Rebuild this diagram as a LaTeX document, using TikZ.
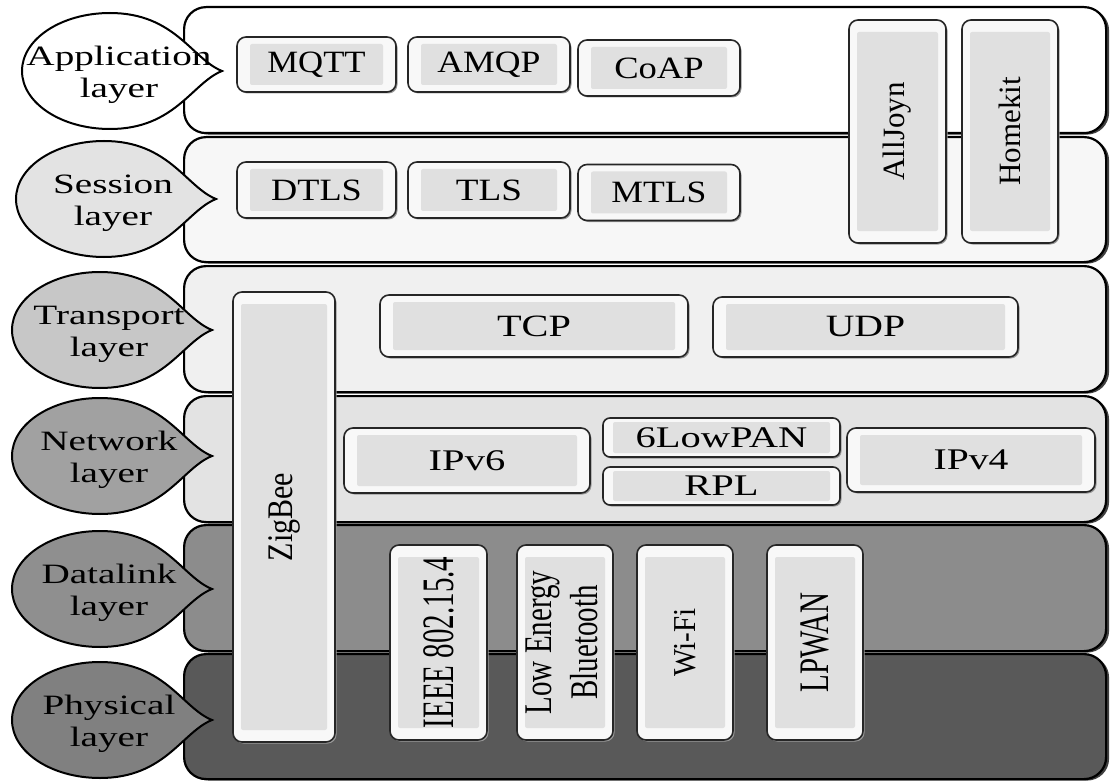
\documentclass[tikz,border=0pt]{standalone}
\usepackage{fontspec}
\setmainfont{Liberation Serif}
\usepackage{graphicx}
\usetikzlibrary{shadows}
\definecolor{rim}{HTML}{F8F8F8}
\definecolor{face}{HTML}{E0E0E0}
\tikzset{
  band/.style={draw=black, line width=2.2pt, rounded corners=22pt, inner sep=0pt,
    drop shadow={shadow xshift=3pt, shadow yshift=-1.5pt, fill=black!75, opacity=1}},
  ibox/.style={draw=black!85, line width=1.6pt, rounded corners=9pt, fill=rim, inner sep=0pt,
    font=\fontsize{31}{35}\selectfont,
    drop shadow={shadow xshift=1.5pt, shadow yshift=-1.5pt, fill=black!40, opacity=1}},
  bevel/.style 2 args={path picture={\fill[face, rounded corners=2pt]
      ([xshift=#1,yshift=-#2]path picture bounding box.north west) rectangle
      ([xshift=-#1,yshift=#2]path picture bounding box.south east);}},
  hbox/.style={ibox, bevel={13pt}{7pt}},
  vbox/.style={ibox, bevel={8pt}{12pt}},
  callout/.style={draw=black, line width=2pt},
  clabel/.style={font=\fontsize{28}{32}\selectfont, align=center, inner sep=0pt},
}
\newcommand\teardrop[5]{%
  \pgfmathsetmacro\tdx{#2+112}%
  \pgfmathsetmacro\tda{#2+65}%
  \pgfmathsetmacro\tdb{#2+82}%
  \pgfmathsetmacro\tdt{#3-58}%
  \pgfmathsetmacro\tdbt{#3+58}%
  \pgfmathsetmacro\tdu{#3-12}%
  \pgfmathsetmacro\tdd{#3+12}%
  \draw[callout, fill=#4] (\tdx,#3) .. controls (\tdb,\tdu) and (\tda,\tdt) .. (#2,\tdt)
    arc[start angle=270, end angle=90, x radius=88, y radius=58]
    .. controls (\tda,\tdbt) and (\tdb,\tdd) .. (\tdx,#3) -- cycle;
  \node[clabel] (#1) at (#2+9,#3+4) {#5};%
}
\begin{document}
\begin{tikzpicture}[x=1pt,y=-1pt]
\useasboundingbox (0,0) rectangle (1120,781);
\fill[white] (0,0) rectangle (1120,781);
% layer bands
\node[band, fill=white, minimum width=922pt, minimum height=126pt, anchor=north west] (bapp) at (183,6) {};
\node[band, fill=black!3, minimum width=922pt, minimum height=125pt, anchor=north west] (bses) at (183,136) {};
\node[band, fill=black!6, minimum width=922pt, minimum height=126pt, anchor=north west] (btra) at (183,265) {};
\node[band, fill=black!11, minimum width=922pt, minimum height=126pt, anchor=north west] (bnet) at (183,395) {};
\node[band, fill=black!45, minimum width=922pt, minimum height=126pt, anchor=north west] (bdat) at (183,524) {};
\node[band, fill=black!65, minimum width=922pt, minimum height=125pt, anchor=north west] (bphy) at (183,653) {};
% callouts
\teardrop{lapp}{110}{71}{white}{\scalebox{1.4}[1]{Application}\\\scalebox{1.4}[1]{layer}}
\teardrop{lses}{104}{199}{black!11}{\scalebox{1.4}[1]{Session}\\\scalebox{1.4}[1]{layer}}
\teardrop{ltra}{100}{330}{black!22}{\scalebox{1.4}[1]{Transport}\\\scalebox{1.4}[1]{layer}}
\teardrop{lnet}{100}{456}{black!37}{\scalebox{1.4}[1]{Network}\\\scalebox{1.4}[1]{layer}}
\teardrop{ldat}{100}{589}{black!44}{\scalebox{1.4}[1]{Datalink}\\\scalebox{1.4}[1]{layer}}
\teardrop{lphy}{100}{720}{black!50}{\scalebox{1.4}[1]{Physical}\\\scalebox{1.4}[1]{layer}}
% application / session protocols
\node[hbox, minimum width=159pt, minimum height=55pt] (mqtt) at (316.5,64.5) {\scalebox{1.12}[1]{MQTT}};
\node[hbox, minimum width=162pt, minimum height=55pt] (amqp) at (489,64.5) {\scalebox{1.15}[1]{AMQP}};
\node[hbox, minimum width=162pt, minimum height=56pt] (coap) at (659,68) {\scalebox{1.18}[1]{CoAP}};
\node[hbox, minimum width=159pt, minimum height=56pt] (dtls) at (316.5,190) {\scalebox{1.17}[1]{DTLS}};
\node[hbox, minimum width=162pt, minimum height=56pt] (tls) at (489,190) {\scalebox{1.2}[1]{TLS}};
\node[hbox, minimum width=162pt, minimum height=56pt] (mtls) at (659,192.5) {\scalebox{1.15}[1]{MTLS}};
\node[vbox, minimum width=97pt, minimum height=223pt] (alljoyn) at (897.5,131.5) {\rotatebox{90}{AllJoyn}};
\node[vbox, minimum width=96pt, minimum height=223pt] (homekit) at (1010,131.5) {\rotatebox{90}{Homekit}};
% transport / network
\node[vbox, minimum width=102pt, minimum height=450pt] (zigbee) at (284,517) {\rotatebox{90}{\scalebox{1}[1.2]{\fontsize{30}{34}\selectfont ZigBee}}};
\node[hbox, minimum width=308pt, minimum height=62pt] (tcp) at (534,326) {\scalebox{1.3}[1]{TCP}};
\node[hbox, minimum width=305pt, minimum height=60pt] (udp) at (865.5,327) {\scalebox{1.28}[1]{UDP}};
\node[hbox, minimum width=246pt, minimum height=65pt, font=\fontsize{30}{34}\selectfont] (ipv6) at (467,460.5) {\scalebox{1.35}[1]{IPv6}};
\node[hbox, bevel={10pt}{4pt}, minimum width=237pt, minimum height=39pt, rounded corners=7pt, font=\fontsize{30}{34}\selectfont] (lowpan) at (721.5,437.5) {\scalebox{1.35}[1]{6LowPAN}};
\node[hbox, bevel={10pt}{4pt}, minimum width=237pt, minimum height=38pt, rounded corners=7pt, font=\fontsize{30}{34}\selectfont] (rpl) at (721.5,486) {\scalebox{1.35}[1]{RPL}};
\node[hbox, minimum width=248pt, minimum height=64pt, font=\fontsize{30}{34}\selectfont] (ipv4) at (971,460) {\scalebox{1.32}[1]{IPv4}};
% datalink / physical
\node[vbox, minimum width=97pt, minimum height=195pt, font=\fontsize{29}{36}\selectfont] (ieee) at (438.5,642.5) {\rotatebox{90}{\scalebox{1}[1.55]{IEEE 802.15.4}}};
\node[vbox, minimum width=96pt, minimum height=195pt, font=\fontsize{29}{34}\selectfont] (ble) at (565,642.5) {\rotatebox{90}{\scalebox{1}[1.35]{\begin{tabular}{@{}c@{}}Low Energy\\Bluetooth\end{tabular}}}};
\node[vbox, minimum width=96pt, minimum height=195pt, font=\fontsize{29}{34}\selectfont] (wifi) at (685,642.5) {\rotatebox{90}{\scalebox{1}[1.1]{Wi-Fi}}};
\node[vbox, minimum width=96pt, minimum height=195pt, font=\fontsize{29}{34}\selectfont] (lpwan) at (815,642.5) {\rotatebox{90}{\scalebox{1}[1.45]{LPWAN}}};
\end{tikzpicture}
\end{document}
